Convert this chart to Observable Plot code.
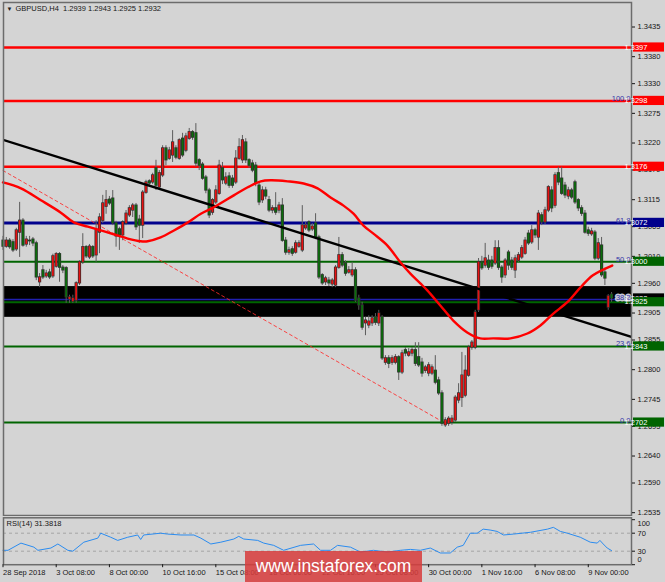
<!DOCTYPE html>
<html><head><meta charset="utf-8">
<script src="https://cdn.jsdelivr.net/npm/d3@7"></script>
<script src="https://cdn.jsdelivr.net/npm/@observablehq/plot@0.6"></script>
<style>
html,body{margin:0;padding:0;background:#d4d4d4;}
#wrap{position:relative;width:665px;height:582px;overflow:hidden;}
#main{position:absolute;left:0;top:0;}
#rsi{position:absolute;left:0;top:516px;}
#wm{position:absolute;left:245px;top:551px;width:177px;height:34px;background:rgba(215,60,60,0.86);color:#fff;font:17.5px "Liberation Sans",Arial,sans-serif;line-height:31px;text-align:center;}
</style></head><body>
<div id="wrap"><div id="main"></div><div id="rsi"></div><div id="wm">www.instaforex.com</div></div>
<script>
const opens=[1.3039,1.3028,1.3039,1.3036,1.3023,1.3054,1.3076,1.3032,1.3039,1.3041,
1.3034,1.2962,1.2984,1.2973,1.2980,1.2973,1.2991,1.3014,1.2989,1.2988,
1.2930,1.2926,1.2928,1.2960,1.2999,1.3027,1.3008,1.3027,1.3012,1.3054,
1.3076,1.3102,1.3115,1.3117,1.3071,1.3060,1.3049,1.3071,1.3086,1.3095,
1.3104,1.3078,1.3067,1.3128,1.3149,1.3147,1.3173,1.3138,1.3160,1.3210,
1.3191,1.3197,1.3210,1.3191,1.3228,1.3206,1.3228,1.3240,1.3238,1.3188,
1.3180,1.3156,1.3132,1.3091,1.3110,1.3126,1.3173,1.3145,1.3158,1.3154,
1.3147,1.3191,1.3188,1.3221,1.3188,1.3182,1.3178,1.3141,1.3114,1.3132,
1.3114,1.3095,1.3099,1.3095,1.3104,1.3039,1.3017,1.3023,1.3017,1.3028,
1.3021,1.3062,1.3073,1.3060,1.3071,1.3045,1.2975,1.2962,1.2965,1.2958,
1.2956,1.2989,1.3012,1.2997,1.2980,1.2975,1.2984,1.2932,1.2919,1.2886,
1.2882,1.2886,1.2897,1.2886,1.2897,1.2813,1.2821,1.2813,1.2813,1.2823,
1.2795,1.2836,1.2826,1.2830,1.2836,1.2823,1.2813,1.2798,1.2793,1.2793,
1.2798,1.2780,1.2756,1.2697,1.2700,1.2702,1.2706,1.2743,1.2748,1.2752,
1.2789,1.2841,1.2841,1.2910,1.2999,1.2993,1.3002,1.3002,1.2997,1.3025,
1.2989,1.2975,1.3017,1.3002,1.2984,1.3002,1.3008,1.3015,1.3052,1.3036,
1.3058,1.3045,1.3086,1.3073,1.3095,1.3132,1.3104,1.3164,1.3154,1.3141,
1.3121,1.3132,1.3147,1.3114,1.3099,1.3089,1.3058,1.3051,1.3054,1.3006,
1.3030,1.2980,1.2915,1.2939];
const highs=[1.3047,1.3045,1.3043,1.3041,1.3062,1.3110,1.3080,1.3047,1.3047,1.3045,
1.3038,1.2978,1.2993,1.2984,1.2986,1.3014,1.3017,1.3017,1.2993,1.2991,
1.2938,1.2938,1.2963,1.3002,1.3052,1.3030,1.3032,1.3030,1.3076,1.3089,
1.3123,1.3132,1.3121,1.3132,1.3075,1.3064,1.3076,1.3095,1.3104,1.3108,
1.3108,1.3086,1.3132,1.3151,1.3152,1.3164,1.3188,1.3169,1.3215,1.3215,
1.3212,1.3243,1.3215,1.3228,1.3238,1.3238,1.3247,1.3243,1.3256,1.3191,
1.3184,1.3160,1.3136,1.3117,1.3141,1.3188,1.3184,1.3165,1.3165,1.3160,
1.3206,1.3228,1.3234,1.3228,1.3191,1.3188,1.3184,1.3145,1.3139,1.3138,
1.3121,1.3104,1.3128,1.3110,1.3117,1.3045,1.3027,1.3028,1.3039,1.3039,
1.3104,1.3073,1.3076,1.3071,1.3089,1.3049,1.2978,1.2973,1.2971,1.2969,
1.2993,1.3045,1.3017,1.3002,1.2991,1.2999,1.2989,1.2938,1.2925,1.2897,
1.2900,1.2900,1.2904,1.2910,1.2900,1.2826,1.2826,1.2826,1.2828,1.2826,
1.2836,1.2841,1.2839,1.2841,1.2850,1.2850,1.2821,1.2808,1.2813,1.2809,
1.2826,1.2786,1.2761,1.2711,1.2713,1.2715,1.2752,1.2774,1.2832,1.2826,
1.2845,1.2854,1.2910,1.3006,1.3010,1.3034,1.3012,1.3010,1.3039,1.3039,
1.2993,1.3006,1.3021,1.3008,1.3012,1.3017,1.3030,1.3045,1.3058,1.3067,
1.3062,1.3095,1.3091,1.3101,1.3141,1.3139,1.3165,1.3175,1.3175,1.3147,
1.3138,1.3136,1.3151,1.3117,1.3104,1.3095,1.3064,1.3062,1.3058,1.3043,
1.3045,1.2988,1.2939,1.2943];
const lows=[1.3021,1.3025,1.3023,1.3017,1.3019,1.3008,1.3027,1.3027,1.3030,1.3028,
1.2965,1.2952,1.2967,1.2969,1.2967,1.2969,1.2988,1.2962,1.2978,1.2923,
1.2923,1.2923,1.2923,1.2956,1.2995,1.3006,1.3004,1.3006,1.2999,1.3015,
1.3071,1.3088,1.3104,1.3067,1.3027,1.3021,1.3039,1.3067,1.3082,1.3082,
1.3058,1.3034,1.3043,1.3125,1.3139,1.3143,1.3132,1.3134,1.3156,1.3178,
1.3188,1.3184,1.3189,1.3188,1.3193,1.3202,1.3225,1.3225,1.3175,1.3169,
1.3151,1.3126,1.3080,1.3086,1.3106,1.3123,1.3143,1.3141,1.3136,1.3136,
1.3143,1.3188,1.3182,1.3182,1.3173,1.3165,1.3139,1.3104,1.3108,1.3115,
1.3091,1.3089,1.3086,1.3089,1.3036,1.3012,1.3012,1.3010,1.3014,1.3025,
1.3017,1.3058,1.3054,1.3056,1.3041,1.2967,1.2956,1.2956,1.2954,1.2952,
1.2952,1.2986,1.2989,1.2973,1.2977,1.2971,1.2925,1.2910,1.2873,1.2863,
1.2876,1.2880,1.2882,1.2880,1.2817,1.2808,1.2802,1.2808,1.2809,1.2780,
1.2791,1.2824,1.2823,1.2824,1.2806,1.2804,1.2786,1.2793,1.2787,1.2789,
1.2772,1.2752,1.2695,1.2693,1.2695,1.2697,1.2702,1.2737,1.2730,1.2748,
1.2786,1.2836,1.2837,1.2906,1.2984,1.2988,1.2984,1.2986,1.2993,1.2984,
1.2960,1.2969,1.2984,1.2984,1.2969,1.2999,1.3004,1.3012,1.3030,1.3032,
1.3043,1.3021,1.3067,1.3069,1.3091,1.3091,1.3099,1.3141,1.3123,1.3117,
1.3115,1.3115,1.3106,1.3093,1.3084,1.3051,1.3047,1.3047,1.3002,1.3002,
1.2971,1.2956,1.2910,1.2925];
const closes=[1.3028,1.3039,1.3027,1.3021,1.3058,1.3076,1.3030,1.3041,1.3038,1.3034,
1.2971,1.2971,1.2971,1.2978,1.2971,1.3010,1.3014,1.2989,1.2984,1.2934,
1.2934,1.2932,1.2960,1.2999,1.3027,1.3010,1.3028,1.3010,1.3058,1.3082,
1.3108,1.3114,1.3108,1.3071,1.3047,1.3049,1.3073,1.3089,1.3099,1.3104,
1.3064,1.3067,1.3128,1.3147,1.3145,1.3160,1.3141,1.3164,1.3210,1.3188,
1.3206,1.3221,1.3193,1.3225,1.3197,1.3232,1.3240,1.3230,1.3182,1.3178,
1.3154,1.3132,1.3086,1.3114,1.3132,1.3178,1.3151,1.3156,1.3141,1.3141,
1.3191,1.3212,1.3225,1.3188,1.3178,1.3169,1.3145,1.3110,1.3132,1.3121,
1.3095,1.3099,1.3091,1.3104,1.3039,1.3017,1.3021,1.3015,1.3034,1.3034,
1.3067,1.3067,1.3058,1.3065,1.3045,1.2971,1.2960,1.2969,1.2960,1.2965,
1.2989,1.3012,1.2993,1.2978,1.2984,1.2984,1.2928,1.2919,1.2878,1.2891,
1.2889,1.2895,1.2887,1.2904,1.2821,1.2821,1.2811,1.2821,1.2823,1.2795,
1.2830,1.2830,1.2832,1.2836,1.2811,1.2808,1.2793,1.2804,1.2808,1.2804,
1.2776,1.2756,1.2700,1.2706,1.2709,1.2709,1.2748,1.2756,1.2789,1.2798,
1.2841,1.2850,1.2906,1.2999,1.2988,1.3006,1.2989,1.2991,1.3025,1.2989,
1.2971,1.3002,1.2993,1.2989,1.3006,1.3012,1.3025,1.3039,1.3034,1.3058,
1.3049,1.3089,1.3073,1.3095,1.3138,1.3099,1.3160,1.3147,1.3126,1.3123,
1.3132,1.3119,1.3110,1.3099,1.3089,1.3054,1.3052,1.3056,1.3006,1.3034,
1.2975,1.2969,1.2936,1.2932];

// moving average: bar index, price
const maIdx=[0,5.4,11.4,17.4,21.3,25.5,29.4,33.3,37.5,41.4,43.5,47.4,51.4,55.6,59.5,63.4,69.4,73.6,77.5,80.5,85.6,90.4,94.6,98.5,102.4,105.4,108.4,111.4,115.6,119.5,122.5,125.5,127.6,131.5,135.4,139.6,143.5,147.4,152.6,157.7,161.6,165.5,169.7,173.6,177.4,183.2];
const maVal=[1.3147,1.3136,1.3114,1.3091,1.3073,1.3065,1.3058,1.3051,1.3043,1.3038,1.3038,1.3045,1.3058,1.3073,1.3089,1.3101,1.3123,1.3138,1.3149,1.3151,1.3149,1.3145,1.3136,1.3119,1.3104,1.3089,1.3067,1.3052,1.3030,1.2999,1.2978,1.2960,1.2947,1.2919,1.2891,1.2869,1.2858,1.2858,1.2858,1.2867,1.2882,1.2904,1.2925,1.2952,1.2975,1.2993];

// RSI(14)
const rsiIdx=[0,1.5,5.4,9.3,10.5,14.4,16.5,19.5,21,24.3,28.5,29.4,32.4,34.5,37.5,40.5,41.4,42.3,47.4,49.5,53.5,57.4,59.5,62.5,65.5,69.4,70.9,72.4,76.6,78.4,81.4,84.4,89.5,93.4,95.5,98.5,100.6,104.5,107.5,111.4,115.6,119.5,122.5,125.5,128.5,131.5,134.5,136.6,138.4,140.5,142.6,144.4,146.5,148.6,150.5,153.5,158.6,163.7,165.5,167.6,169.7,173.6,176.6,178.7,179.5,180.5,181.7,183];
const rsiVal=[32,32,48,39,32,37,46,32,30,50,59,70,61,54,61,66,56,66,70,68,66,66,59,46,50,57,63,57,54,48,43,32,43,46,32,32,43,39,28,32,28,32,34,32,37,26,26,39,43,70,70,79,77,74,66,68,72,79,83,74,70,61,50,48,54,46,37,31.4];

// trend lines: [start index, end index], [start price, end price]
const trendIdx=[0,189.4], trendVal=[1.3226,1.2860];
const dashIdx=[0,131.5], dashVal=[1.3169,1.2706];

// horizontal levels
const redLevels=[1.3397,1.3298,1.3176];
const navyLevels=[1.3072];
const greenLevels=[1.3000,1.2925,1.2843,1.2702];
const fib382=1.2930;
const bandTop=1.2954, bandBottom=1.2897;
const currentPrice=1.2932;
const fibValues=[1.3298,1.3072,1.3000,1.2930,1.2843,1.2702];
const fibLabels=["100.0","61.8","50.0","38.2","23.6","0.0"];

const yTicks=[1.3435,1.3380,1.3330,1.3275,1.3220,1.3170,1.3115,1.3065,1.3010,1.2960,1.2905,1.2855,1.2800,1.2745,1.2695,1.2640,1.2590,1.2535];
const timeTicks=[0,16,32,48,64,80,96,112,128,144,160,176];
const timeLabels=["28 Sep 2018","3 Oct 08:00","8 Oct 00:00","10 Oct 16:00","15 Oct 08:00","18 Oct 00:00","22 Oct 16:00","25 Oct 08:00","30 Oct 00:00","1 Nov 16:00","6 Nov 08:00","9 Nov 00:00"];
const title="GBPUSD,H4  1.2939 1.2943 1.2925 1.2932";
const rsiTitle="RSI(14) 31.3818";

const FONT='"Liberation Sans", Arial, sans-serif';
const N=Math.min(opens.length,highs.length,lows.length,closes.length);
const bars=d3.range(N).map(i=>({i,o:opens[i],h:highs[i],l:lows[i],c:closes[i],up:closes[i]>=opens[i]}));
const ma=maIdx.map((x,k)=>({x,y:maVal[k]}));
const rsi=rsiIdx.map((x,k)=>({x,y:rsiVal[k]}));
const trend=trendIdx.map((x,k)=>({x,y:trendVal[k]}));
const dash=dashIdx.map((x,k)=>({x,y:dashVal[k]}));
const xDomain=[0.15,189.0];

const main=Plot.plot({
  width:665,height:516,marginLeft:3,marginRight:34,marginTop:2,marginBottom:1,
  style:{background:"#d4d4d4",fontFamily:FONT,fontSize:"7.5px",color:"#161616"},
  x:{type:"linear",domain:xDomain,axis:null},
  y:{domain:[1.25298,1.34804]},
  marks:[
    Plot.rect([0],{y1:bandBottom,y2:bandTop,fill:"#000"}),
    Plot.ruleY(redLevels,{stroke:"#ff0000",strokeWidth:2.4}),
    Plot.ruleY(navyLevels,{stroke:"#00008c",strokeWidth:3}),
    Plot.ruleY(greenLevels,{stroke:"#006400",strokeWidth:2}),
    Plot.ruleY([fib382],{stroke:"#2020b0",strokeWidth:1.4}),
    Plot.line(dash,{x:"x",y:"y",stroke:"#ff2a2a",strokeWidth:1,strokeDasharray:"3,3",strokeOpacity:0.85}),
    Plot.ruleX(bars,{x:"i",y1:"l",y2:"h",stroke:"#5c5c5c",strokeWidth:1}),
    Plot.ruleX(bars,{x:"i",y1:d=>Math.max(d.o,d.c),y2:d=>Math.min(d.o,d.c),stroke:"#2e2e2e",strokeWidth:3.2,insetTop:-0.6,insetBottom:-0.6}),
    Plot.ruleX(bars,{x:"i",y1:d=>Math.max(d.o,d.c),y2:d=>Math.min(d.o,d.c),stroke:d=>d.up?"#e81212":"#0b6e0b",strokeWidth:1.7}),
    Plot.line(trend,{x:"x",y:"y",stroke:"#000",strokeWidth:2.4,clip:true}),
    Plot.line(ma,{x:"x",y:"y",stroke:"#ff0000",strokeWidth:2.4,curve:"catmull-rom"}),
    Plot.text(fibValues,{y:d=>d,text:(d,k)=>fibLabels[k],frameAnchor:"right",textAnchor:"end",lineAnchor:"bottom",dx:-1,fill:"#3434a8",stroke:(d)=>d===fib382?"#c8c8d4":"none",strokeWidth:3}),
    Plot.frame({stroke:"#6c6c6c",strokeWidth:1.5}),
    Plot.axisY(yTicks,{anchor:"right",tickSize:3,tickPadding:3,tickFormat:d=>d.toFixed(4),label:null}),
    Plot.text(["▼"],{frameAnchor:"top-left",dx:3,dy:4,lineAnchor:"top",fontSize:6,fill:"#222"}),
    Plot.text([title],{frameAnchor:"top-left",dx:12,dy:3,lineAnchor:"top",textAnchor:"start",fill:"#161616"})
  ]
});

// price labels on the right axis
const ys=main.scale("y");
const g=d3.select(main).append("g").attr("font-family",FONT).attr("font-size",7.5);
function box(v,bg){
  const yy=ys.apply(v);
  g.append("rect").attr("x",633).attr("y",yy-4.6).attr("width",31).attr("height",9.2).attr("fill",bg);
  g.append("text").attr("x",636).attr("y",yy).attr("dy","0.35em").attr("fill","#fff").text(v.toFixed(4));
}
redLevels.forEach(v=>box(v,"#ff0000"));
navyLevels.forEach(v=>box(v,"#00008c"));
box(currentPrice,"#000");
greenLevels.forEach(v=>box(v,"#006400"));
document.getElementById("main").appendChild(main);

const rsiPlot=Plot.plot({
  width:665,height:66,marginLeft:3,marginRight:34,marginTop:1.3,marginBottom:17.8,
  style:{background:"#d4d4d4",fontFamily:FONT,fontSize:"7.5px",color:"#161616"},
  x:{type:"linear",domain:xDomain},
  y:{domain:[0,104.2],axis:null},
  marks:[
    Plot.ruleY([30,70],{stroke:"#a4a4a4",strokeDasharray:"3,3"}),
    Plot.line(rsi,{x:"x",y:"y",stroke:"#2b8cf0",strokeWidth:1}),
    Plot.frame({stroke:"#6c6c6c",strokeWidth:1.5}),
    Plot.text([rsiTitle],{frameAnchor:"top-left",dx:3,dy:3,lineAnchor:"top",textAnchor:"start",fill:"#161616"}),
    Plot.axisX(timeTicks,{anchor:"bottom",tickSize:3,tickPadding:2,textAnchor:"start",tickFormat:d=>timeLabels[timeTicks.indexOf(d)],label:null}),
    Plot.axisY([100,70,30,0],{anchor:"right",tickSize:3,tickFormat:()=>"",label:null}),
    Plot.text([100],{y:d=>d,text:d=>String(d),frameAnchor:"right",dx:6,dy:3.5,textAnchor:"start"}),
    Plot.text([70,30],{y:d=>d,text:d=>String(d),frameAnchor:"right",dx:6,textAnchor:"start"}),
    Plot.text([0],{y:d=>d,text:d=>String(d),frameAnchor:"right",dx:6,dy:-5,textAnchor:"start"})
  ]
});
document.getElementById("rsi").appendChild(rsiPlot);
</script></body></html>
